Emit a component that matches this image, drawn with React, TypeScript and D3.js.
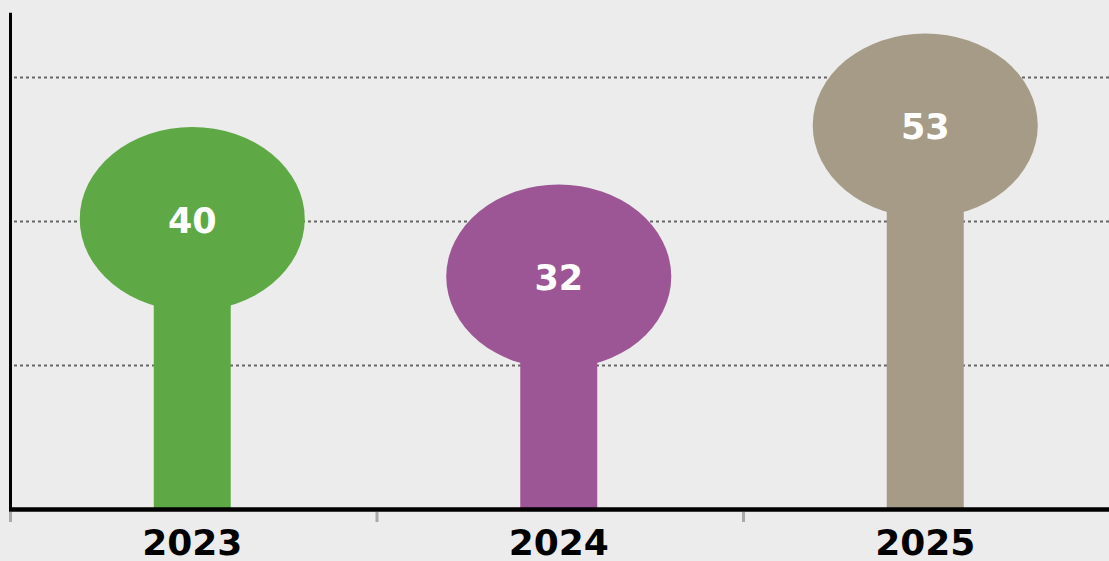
import React, { useEffect, useRef } from 'react';
import * as d3 from 'd3';

const years = ['2023', '2024', '2025'];
const values = [40, 32, 53];
const colors = ['#5ea846', '#9c5695', '#a69b87'];
const gridValues = [20, 40, 60];

const W = 1109;
const H = 561;

const App = () => {
  const ref = useRef<SVGSVGElement>(null);

  useEffect(() => {
    document.body.style.margin = '0';
    document.body.style.background = '#ececec';
    const svg = d3.select(ref.current);
    svg.selectAll('*').remove();

    const x = d3.scaleBand().domain(years).range([9, 1108.5]);
    const y = d3.scaleLinear().domain([0, 69]).range([509.5, 12.7]);
    const bw = x.bandwidth();

    svg.append('rect').attr('width', W).attr('height', H).attr('fill', '#ececec');

    // dotted gridlines
    svg
      .selectAll('.grid')
      .data(gridValues)
      .enter()
      .append('line')
      .attr('x1', 14)
      .attr('x2', W)
      .attr('y1', (d) => y(d))
      .attr('y2', (d) => y(d))
      .attr('stroke', '#666')
      .attr('stroke-width', 2)
      .attr('stroke-dasharray', '3,3');

    const g = svg.selectAll('.item').data(years).enter().append('g');

    // stems
    g.append('rect')
      .attr('x', (d) => x(d)! + bw / 2 - bw * 0.105)
      .attr('width', bw * 0.21)
      .attr('y', (d, i) => y(values[i]))
      .attr('height', (d, i) => y(0) - y(values[i]))
      .attr('fill', (d, i) => colors[i]);

    // heads
    g.append('ellipse')
      .attr('cx', (d) => x(d)! + bw / 2)
      .attr('cy', (d, i) => y(values[i]) - 2.5)
      .attr('rx', bw * 0.307)
      .attr('ry', 92)
      .attr('fill', (d, i) => colors[i]);

    g.append('text')
      .attr('x', (d) => x(d)! + bw / 2)
      .attr('y', (d, i) => y(values[i]) + 11)
      .attr('text-anchor', 'middle')
      .attr('font-family', 'Verdana, "DejaVu Sans", sans-serif')
      .attr('font-weight', 'bold')
      .attr('font-size', 35)
      .attr('fill', '#fff')
      .text((d, i) => values[i]);

    // axes
    svg
      .append('line')
      .attr('x1', 10.5)
      .attr('x2', 10.5)
      .attr('y1', y.range()[1])
      .attr('y2', 511)
      .attr('stroke', '#000')
      .attr('stroke-width', 3);

    svg
      .append('line')
      .attr('x1', 9)
      .attr('x2', W)
      .attr('y1', 509.5)
      .attr('y2', 509.5)
      .attr('stroke', '#000')
      .attr('stroke-width', 4.5);

    svg
      .selectAll('.tick')
      .data(years)
      .enter()
      .append('line')
      .attr('x1', (d) => x(d)! + 1.5)
      .attr('x2', (d) => x(d)! + 1.5)
      .attr('y1', 512)
      .attr('y2', 522)
      .attr('stroke', '#aaa')
      .attr('stroke-width', 3);

    svg
      .selectAll('.label')
      .data(years)
      .enter()
      .append('text')
      .attr('x', (d) => x(d)! + bw / 2)
      .attr('y', 555)
      .attr('text-anchor', 'middle')
      .attr('font-family', 'Verdana, "DejaVu Sans", sans-serif')
      .attr('font-weight', 'bold')
      .attr('font-size', 36)
      .attr('fill', '#000')
      .text((d) => d);
  }, []);

  return <svg ref={ref} width={W} height={H} style={{ display: 'block' }} />;
};

export default App;
